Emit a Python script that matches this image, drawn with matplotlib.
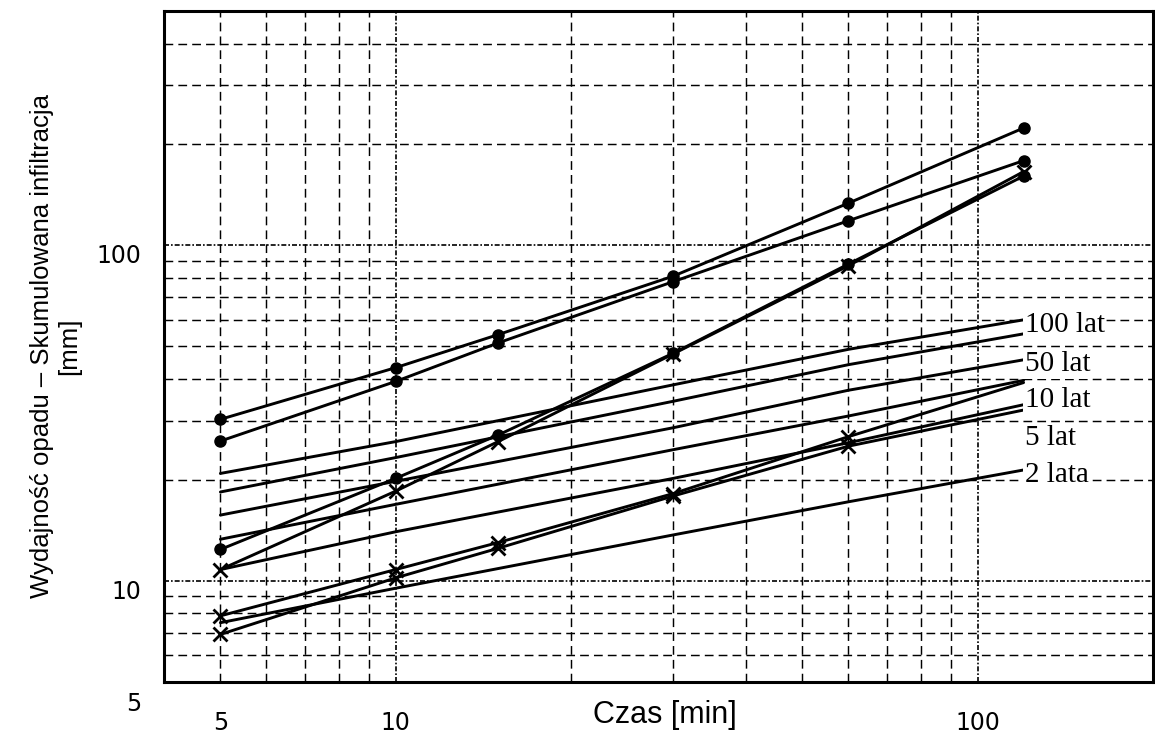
import matplotlib
matplotlib.use("Agg")
import matplotlib.pyplot as plt
import matplotlib.transforms as mtransforms
from matplotlib.ticker import FuncFormatter, LogLocator

# czas trwania deszczu [min]
TIME_INFIL = [5, 10, 15, 30, 60, 120]
TIME_RAIN = [5, 10, 30, 60, 120]

# skumulowana infiltracja [mm] (linie z markerami)
INFIL_1 = [30.3, 43.2, 54.2, 81.0, 133.7, 224.0]
INFIL_2 = [26.1, 39.3, 51.2, 78.0, 118.5, 179.0]
INFIL_3 = [12.4, 20.2, 27.2, 47.7, 88.0, 161.0]
INFIL_4 = [10.8, 18.5, 26.0, 47.5, 87.0, 166.0]
INFIL_5 = [7.86, 10.8, 13.0, 18.2, 26.9, 39.0]
INFIL_6 = [6.92, 10.2, 12.5, 17.9, 25.2, 32.3]
INFIL_MARKERS = ["o", "o", "o", "x", "x", "x"]
# ostatni punkt dolnych krzywych nie ma markera
INFIL_MARKED_POINTS = [6, 6, 6, 6, 5, 5]

# wydajnosc opadu [mm] dla okresow powtarzalnosci
RAIN_1 = [20.9, 26.0, 38.4, 49.0, 60.0]
RAIN_2 = [18.4, 23.3, 34.3, 44.1, 54.5]
RAIN_3 = [15.7, 19.8, 28.6, 37.0, 45.6]
RAIN_4 = [13.3, 16.9, 24.6, 31.0, 39.6]
RAIN_5 = [10.8, 14.0, 20.2, 25.8, 33.5]
RAIN_6 = [7.5, 9.5, 13.7, 17.2, 21.4]

RETURN_LABELS = ["100 lat", "50 lat", "10 lat", "5 lat", "2 lata"]
RETURN_LABEL_Y = [58.1, 44.2, 34.7, 26.6, 20.7]


def main():
    fig = plt.figure(figsize=(11.55, 7.37), dpi=100)
    ax = fig.add_axes([0.142, 0.075, 0.856, 0.910])
    ax.set_xscale("log")
    ax.set_yscale("log")
    ax.set_xlim(4, 200)
    ax.set_ylim(5, 500)

    line_kw = dict(color="black", linewidth=2.1, solid_capstyle="round")
    for series in [RAIN_1, RAIN_2, RAIN_3, RAIN_4, RAIN_5, RAIN_6]:
        ax.plot(TIME_RAIN, series, zorder=3, **line_kw)

    infil = [INFIL_1, INFIL_2, INFIL_3, INFIL_4, INFIL_5, INFIL_6]
    for series, marker, n_marked in zip(infil, INFIL_MARKERS, INFIL_MARKED_POINTS):
        if marker == "o":
            ax.plot(TIME_INFIL, series, marker="o", markersize=8,
                    markerfacecolor="black", markeredgecolor="black",
                    markevery=list(range(n_marked)), zorder=4, **line_kw)
        else:
            ax.plot(TIME_INFIL, series, marker="x", markersize=10,
                    markeredgewidth=2.0, markeredgecolor="black",
                    markevery=list(range(n_marked)), zorder=4, **line_kw)

    for text, y in zip(RETURN_LABELS, RETURN_LABEL_Y):
        ax.text(TIME_RAIN[-1] * 1.004, y, text, ha="left", va="center",
                fontsize=21, family="Liberation Serif", zorder=5,
                bbox=dict(facecolor="white", edgecolor="none", pad=0.8))

    # siatka logarytmiczna
    ax.xaxis.set_major_locator(LogLocator(base=10))
    ax.xaxis.set_minor_locator(LogLocator(base=10, subs=range(2, 10)))
    ax.yaxis.set_major_locator(LogLocator(base=10))
    ax.yaxis.set_minor_locator(LogLocator(base=10, subs=range(2, 10)))
    ax.grid(True, which="major", color="black", linewidth=1.2,
            linestyle=(0, (3.0, 1.2, 1.0, 1.2)))
    ax.grid(True, which="minor", color="black", linewidth=1.05,
            linestyle=(0, (6.0, 3.5)))
    ax.set_axisbelow(True)

    major_fmt = FuncFormatter(lambda v, p: f"{v:g}")
    minor_fmt = FuncFormatter(lambda v, p: "5" if abs(v - 5) < 1e-6 else "")
    ax.xaxis.set_major_formatter(major_fmt)
    ax.xaxis.set_minor_formatter(minor_fmt)
    ax.yaxis.set_major_formatter(major_fmt)
    ax.yaxis.set_minor_formatter(minor_fmt)

    ax.tick_params(axis="both", which="both", length=0, labelsize=17)
    ax.tick_params(axis="x", which="both", pad=21)
    ax.tick_params(axis="y", which="both", pad=16)

    # etykiety osi Y lekko ponizej linii (jak w oryginale)
    shift = mtransforms.ScaledTranslation(0, -6 / 72, fig.dpi_scale_trans)
    for tick in ax.yaxis.get_major_ticks():
        tick.label1.set_transform(tick.label1.get_transform() + shift)
    shift5 = mtransforms.ScaledTranslation(0, -14 / 72, fig.dpi_scale_trans)
    for tick in ax.yaxis.get_minor_ticks():
        tick.label1.set_transform(tick.label1.get_transform() + shift5)

    for spine in ax.spines.values():
        spine.set_linewidth(2.2)
        spine.set_color("black")

    ax.set_xlabel("Czas [min]", fontsize=22, family="Liberation Sans")
    ax.xaxis.set_label_coords(0.507, -0.027)
    ax.set_ylabel("Wydajność opadu – Skumulowana infiltracja\n[mm]",
                  fontsize=18.5, family="Liberation Sans", linespacing=1.15,
                  va="center")
    ax.yaxis.set_label_coords(-0.110, 0.5)

    fig.savefig("out.png", dpi=100, facecolor="white")


if __name__ == "__main__":
    main()
